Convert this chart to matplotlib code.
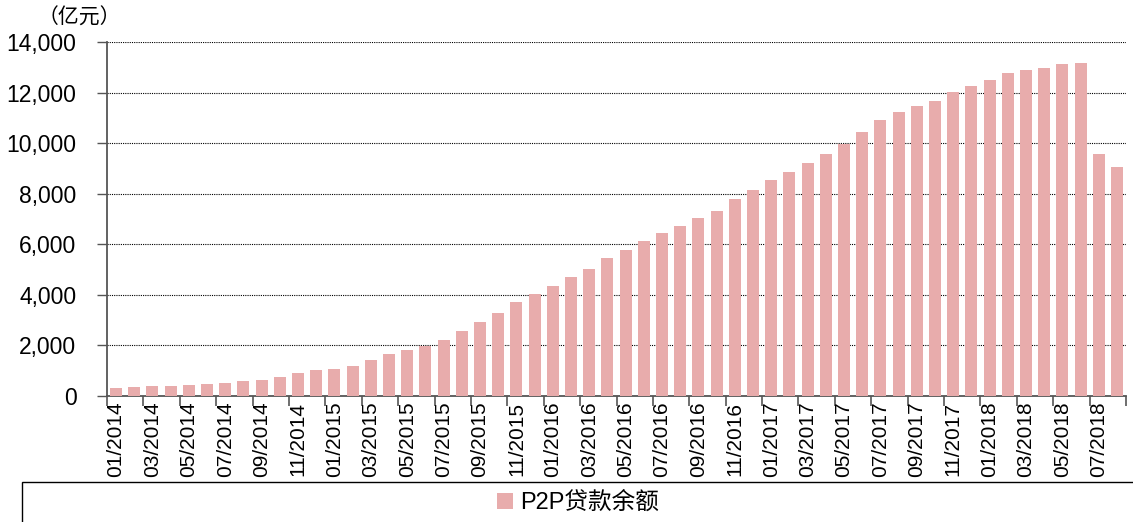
import numpy as np
import matplotlib.pyplot as plt
from matplotlib.patches import Rectangle
from matplotlib.ticker import FuncFormatter

plt.rcParams['font.family'] = ['Liberation Sans', 'Noto Sans CJK SC', 'DejaVu Sans']

# monthly P2P loan balance, 01/2014 - 08/2018 (100 million yuan)
months = [f'{m:02d}/{y}' for y in range(2014, 2019) for m in range(1, 13)][:56]
balance = [317, 343, 396, 409, 436, 488, 528, 594, 647, 739, 898, 1043,
           1069, 1188, 1412, 1645, 1835, 1980, 2231, 2574, 2944, 3274, 3736, 4052,
           4343, 4699, 5029, 5465, 5755, 6125, 6455, 6719, 7022, 7313, 7788, 8155,
           8557, 8864, 9221, 9590, 9974, 10449, 10911, 11215, 11466, 11678, 12021, 12246,
           12497, 12761, 12906, 12985, 13131, 13184, 9564, 9049]

bar_color = '#E8ACAC'

fig = plt.figure(figsize=(11.33, 5.22), dpi=100)
ax = fig.add_axes([107/1133, 1 - 396/522, (1126 - 107)/1133, (396 - 42)/522])

x = np.arange(len(balance))
ax.bar(x, balance, width=0.66, color=bar_color, label='P2P贷款余额', zorder=3)

ax.set_xlim(-0.5, len(balance) - 0.5)
ax.set_ylim(0, 14000)
ax.set_yticks(np.arange(0, 14001, 2000))
ax.yaxis.set_major_formatter(FuncFormatter(lambda v, p: f'{int(v):,}'))
ax.grid(axis='y', color='black', linestyle=(0, (1, 1)), linewidth=0.8, zorder=0)

# ticks on category boundaries every 2 months, labels on odd months
ax.set_xticks(np.arange(-0.5, len(balance), 2))
ax.set_xticklabels([])
ax.set_xticks(x[::2], minor=True)
ax.set_xticklabels(months[::2], minor=True, rotation=90, fontsize=15)
ax.tick_params(axis='x', which='major', direction='out', length=7, color='#555555', width=1.2)
ax.tick_params(axis='x', which='minor', length=0, pad=4)
ax.tick_params(axis='y', direction='out', length=7, color='#555555', width=1.0, labelsize=16.5, pad=15)

for s in ['top', 'right']:
    ax.spines[s].set_visible(False)
for s in ['left', 'bottom']:
    ax.spines[s].set_color('#555555')
    ax.spines[s].set_linewidth(1.3)

fig.text(38/1133, 1 - 18/522, '（亿元）', fontsize=15, va='center', ha='left')

# legend box along the bottom
fig.patches.append(Rectangle((22/1133, -0.05), 1.1, 0.05 + 1 - 482/522, transform=fig.transFigure,
                             fill=False, edgecolor='black', linewidth=1.0))
fig.legend(loc='center', bbox_to_anchor=(578/1133, 1 - 503/522), frameon=False,
           fontsize=17, handlelength=0.7, handleheight=0.7, handletextpad=0.3)

plt.savefig('out.png', dpi=100)
